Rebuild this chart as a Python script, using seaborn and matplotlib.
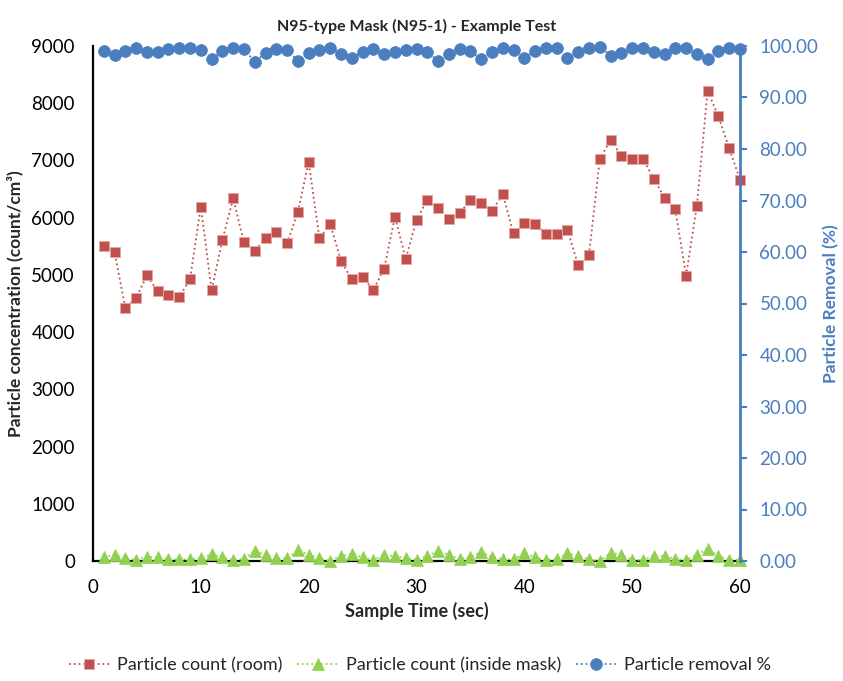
import numpy as np
import pandas as pd
import seaborn as sns
import matplotlib.pyplot as plt

# ---- data ----
sample_time = list(range(1, 61))
room_count = [5500, 5400, 4420, 4600, 4990, 4715, 4655, 4615, 4925, 6195,
              4730, 5610, 6335, 5570, 5420, 5640, 5750, 5555, 6100, 6970,
              5640, 5890, 5245, 4920, 4955, 4740, 5110, 6015, 5280, 5955,
              6315, 6170, 5980, 6080, 6310, 6265, 6120, 6410, 5725, 5900,
              5895, 5710, 5720, 5785, 5165, 5350, 7030, 7360, 7080, 7020,
              7025, 6680, 6350, 6145, 4985, 6210, 8215, 7770, 7210, 6665]
inside_count = [75, 105, 47, 17, 75, 64, 29, 29, 29, 47,
                117, 64, 17, 35, 180, 105, 47, 47, 192, 105,
                47, 0, 87, 117, 64, 17, 105, 87, 47, 20,
                87, 180, 105, 29, 75, 152, 75, 29, 29, 134,
                64, 17, 29, 134, 87, 29, 0, 146, 105, 17,
                17, 87, 87, 29, 17, 105, 215, 87, 17, 17]
removal_pct = [99.10, 98.25, 99.00, 99.55, 98.80, 98.90, 99.40, 99.55, 99.55, 99.20,
               97.50, 99.00, 99.55, 99.40, 96.95, 98.60, 99.40, 99.20, 97.10, 98.58,
               99.22, 99.55, 98.45, 97.60, 98.90, 99.40, 98.40, 98.90, 99.20, 99.40,
               98.90, 97.10, 98.40, 99.40, 99.00, 97.50, 98.90, 99.70, 99.20, 97.73,
               99.03, 99.70, 99.55, 97.60, 98.77, 99.55, 99.87, 98.10, 98.58, 99.55,
               99.70, 98.77, 98.40, 99.55, 99.70, 98.40, 97.50, 99.03, 99.55, 99.40]
left_ticks = list(range(0, 9001, 1000))
right_ticks = list(range(0, 101, 10))
x_ticks = list(range(0, 61, 10))

labels = ["Particle count (room)", "Particle count (inside mask)", "Particle removal %"]

df = pd.DataFrame({"time": sample_time, "room": room_count,
                   "inside": inside_count, "removal": removal_pct})

sns.set_style("white")
plt.rcParams['font.family'] = ['Lato', 'DejaVu Sans']

RED = "#C0504D"
GREEN = "#92D050"
BLUE = "#4A7EBF"

fig = plt.figure(figsize=(8.43, 6.81), dpi=100)
ax = fig.add_axes([93 / 843, 1 - 561 / 681, (740 - 93) / 843, (561 - 46) / 681])
ax2 = ax.twinx()

sns.lineplot(data=df, x="time", y="room", ax=ax, color=RED, marker="s",
             markersize=7, markeredgecolor="#E8A5A3", markeredgewidth=0.6,
             linestyle=":", linewidth=1.3, label=labels[0], zorder=3, clip_on=False)
sns.lineplot(data=df, x="time", y="inside", ax=ax, color=GREEN, marker="^",
             markersize=8, markeredgecolor=GREEN, markeredgewidth=0.5,
             linestyle=":", linewidth=1.3, label=labels[1], zorder=4, clip_on=False)
sns.lineplot(data=df, x="time", y="removal", ax=ax2, color=BLUE, marker="o",
             markersize=8.5, markeredgecolor=BLUE, markeredgewidth=0.5,
             linestyle=":", linewidth=1.3, label=labels[2], zorder=3, clip_on=False)

ax.set_xlim(0, 60)
ax.set_ylim(0, 9000)
ax2.set_ylim(0, 100)
ax.set_xticks(x_ticks)
ax.set_yticks(left_ticks)
ax2.set_yticks(right_ticks)
ax2.set_yticklabels([f"{v:.2f}" for v in right_ticks])

for s in ["top", "right"]:
    ax.spines[s].set_visible(False)
for s in ["top", "left", "bottom"]:
    ax2.spines[s].set_visible(False)
ax.spines["left"].set_color("black")
ax.spines["left"].set_linewidth(1.6)
ax.spines["bottom"].set_color("black")
ax.spines["bottom"].set_linewidth(1.6)
ax.spines["bottom"].set_zorder(1)
ax2.spines["right"].set_color(BLUE)
ax2.spines["right"].set_linewidth(2.0)

ax.tick_params(axis="both", length=0, labelsize=13.5, labelcolor="black")
ax.tick_params(axis="y", pad=13)
ax.tick_params(axis="x", pad=13)
ax2.tick_params(axis="y", length=5, width=1.5, color=BLUE, direction="out",
                labelsize=13.5, labelcolor=BLUE, pad=9)

ax.set_xlabel("Sample Time (sec)", fontsize=13, fontweight="bold", labelpad=4)
ax.set_ylabel("Particle concentration (count/cm³)", fontsize=12.5, fontweight="bold", labelpad=6)
ax2.set_ylabel("Particle Removal (%)", fontsize=12.5, fontweight="bold", color=BLUE, labelpad=3)
ax.set_title("N95-type Mask (N95-1) - Example Test", fontsize=11.5, fontweight="bold", pad=11)

h1, l1 = ax.get_legend_handles_labels()
h2, l2 = ax2.get_legend_handles_labels()
ax.get_legend().remove()
ax2.get_legend().remove()
fig.legend(h1 + h2, l1 + l2, loc="center", bbox_to_anchor=(420 / 843, 1 - 665 / 681),
           ncol=3, frameon=False, fontsize=13, handlelength=2.3, columnspacing=0.8,
           handletextpad=0.4)

fig.savefig("out.png", dpi=100)
